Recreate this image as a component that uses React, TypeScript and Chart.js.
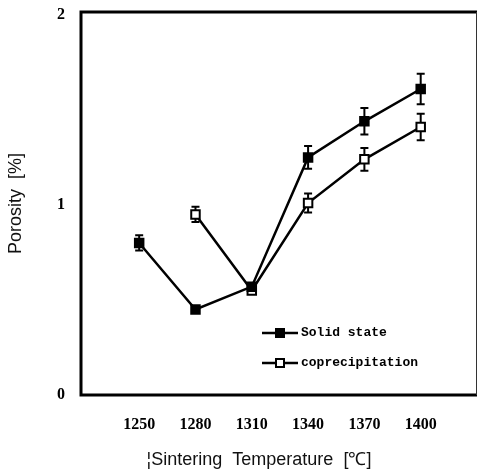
import React, { useEffect, useRef } from "react";
import { Chart, registerables } from "chart.js";

Chart.register(...registerables);

const temperatures = [1250, 1280, 1310, 1340, 1370, 1400];
const solidValues = [0.8, 0.45, 0.57, 1.25, 1.44, 1.61];
const solidErrors = [0.04, 0.0, 0.0, 0.06, 0.07, 0.08];
const coprecipValues: (number | null)[] = [null, 0.95, 0.55, 1.01, 1.24, 1.41];
const coprecipErrors = [0, 0.04, 0.0, 0.05, 0.06, 0.07];
const yTicks = [0, 1, 2];
const seriesLabels = ["Solid state", "coprecipitation"];
const xTitle = "¦Sintering  Temperature  [℃]        ";
const yTitle = "Porosity  [%]";

const errorsBySeries = [solidErrors, coprecipErrors];

const framePlugin = {
  id: "frame",
  beforeDatasetsDraw(chart: any) {
    const { ctx, chartArea } = chart;
    const { left, right, top, bottom } = chartArea;
    ctx.save();
    ctx.strokeStyle = "#000";
    ctx.lineWidth = 3;
    ctx.beginPath();
    ctx.moveTo(right, top);
    ctx.lineTo(left, top);
    ctx.lineTo(left, bottom);
    ctx.lineTo(right, bottom);
    ctx.stroke();
    ctx.lineWidth = 1;
    ctx.strokeStyle = "#333";
    ctx.beginPath();
    ctx.moveTo(right - 0.5, top);
    ctx.lineTo(right - 0.5, bottom);
    ctx.stroke();
    ctx.restore();
  },
};

const errorBarPlugin = {
  id: "errorBars",
  beforeDatasetsDraw(chart: any) {
    const { ctx } = chart;
    const xs = chart.scales.x;
    const ys = chart.scales.y;
    ctx.save();
    ctx.strokeStyle = "#000";
    ctx.lineWidth = 2;
    chart.data.datasets.forEach((ds: any, di: number) => {
      const errs = errorsBySeries[di];
      ds.data.forEach((p: any, i: number) => {
        if (p.y == null || !errs[i]) return;
        const x = xs.getPixelForValue(p.x);
        const y1 = ys.getPixelForValue(p.y + errs[i]);
        const y2 = ys.getPixelForValue(p.y - errs[i]);
        ctx.beginPath();
        ctx.moveTo(x, y1);
        ctx.lineTo(x, y2);
        ctx.moveTo(x - 4, y1);
        ctx.lineTo(x + 4, y1);
        ctx.moveTo(x - 4, y2);
        ctx.lineTo(x + 4, y2);
        ctx.stroke();
      });
    });
    ctx.restore();
  },
};

const legendPlugin = {
  id: "customLegend",
  afterDatasetsDraw(chart: any) {
    const { ctx, chartArea } = chart;
    const x0 = chartArea.left + 181;
    const rows = [chartArea.top + 321, chartArea.top + 351];
    ctx.save();
    chart.data.datasets.forEach((ds: any, i: number) => {
      const y = rows[i];
      ctx.strokeStyle = "#000";
      ctx.lineWidth = 2.5;
      ctx.beginPath();
      ctx.moveTo(x0, y);
      ctx.lineTo(x0 + 36, y);
      ctx.stroke();
      ctx.fillStyle = ds.pointBackgroundColor;
      ctx.lineWidth = 2;
      ctx.fillRect(x0 + 14, y - 4, 8, 8);
      ctx.strokeRect(x0 + 14, y - 4, 8, 8);
      ctx.fillStyle = "#000";
      ctx.font = "bold 13px 'Liberation Mono'";
      ctx.textBaseline = "middle";
      ctx.textAlign = "left";
      ctx.fillText(ds.label, x0 + 39, y);
    });
    ctx.restore();
  },
};

const zeroPadding = (scale: any) => {
  scale.paddingLeft = 0;
  scale.paddingRight = 0;
  scale.paddingTop = 0;
  scale.paddingBottom = 0;
};

export default function App() {
  const canvasRef = useRef<HTMLCanvasElement | null>(null);

  useEffect(() => {
    document.body.style.margin = "0";
    const canvas = canvasRef.current;
    if (!canvas) return;
    const chart = new Chart(canvas, {
      type: "line",
      data: {
        datasets: [
          {
            label: seriesLabels[0],
            data: temperatures.map((t, i) => ({ x: t, y: solidValues[i] })),
            borderColor: "#000",
            borderWidth: 2.5,
            pointStyle: "rect",
            pointRadius: 6,
            pointBorderWidth: 2,
            pointBackgroundColor: "#000",
            pointBorderColor: "#000",
            fill: false,
          },
          {
            label: seriesLabels[1],
            data: temperatures.map((t, i) => ({ x: t, y: coprecipValues[i] })),
            borderColor: "#000",
            borderWidth: 2.5,
            pointStyle: "rect",
            pointRadius: 6,
            pointBorderWidth: 2,
            pointBackgroundColor: "#fff",
            pointBorderColor: "#000",
            fill: false,
          },
        ],
      },
      options: {
        animation: false,
        responsive: false,
        devicePixelRatio: 1,
        layout: { autoPadding: false, padding: { top: 12, right: 1, left: 0, bottom: 0 } },
        plugins: {
          legend: { display: false },
          tooltip: { enabled: false },
        },
        scales: {
          x: {
            type: "linear",
            min: 1219,
            max: 1430,
            afterBuildTicks: (scale: any) => {
              scale.ticks = temperatures.map((v) => ({ value: v }));
            },
            afterFit: (scale: any) => {
              scale.height = 81;
              zeroPadding(scale);
            },
            grid: { display: false, drawTicks: false },
            border: { display: false },
            ticks: {
              color: "#000",
              padding: 20,
              maxRotation: 0,
              autoSkip: false,
              font: { family: "'Liberation Serif'", size: 16, weight: "bold" },
              callback: (v: any) => String(v),
            },
            title: {
              display: true,
              text: xTitle,
              color: "#111",
              font: { family: "'Liberation Sans'", size: 18 },
              padding: { top: 0, bottom: 5 },
            },
          },
          y: {
            min: 0,
            max: 2.015,
            afterBuildTicks: (scale: any) => {
              scale.ticks = yTicks.map((v) => ({ value: v }));
            },
            afterFit: (scale: any) => {
              scale.width = 81;
              zeroPadding(scale);
            },
            grid: { display: false, drawTicks: false },
            border: { display: false },
            ticks: {
              color: "#000",
              padding: 16,
              font: { family: "'Liberation Serif'", size: 16, weight: "bold" },
              callback: (v: any) => String(v),
            },
            title: {
              display: true,
              text: yTitle,
              color: "#111",
              font: { family: "'Liberation Sans'", size: 18 },
              padding: { top: 5, bottom: 0 },
            },
          },
        },
      },
      plugins: [framePlugin, errorBarPlugin, legendPlugin],
    } as any);
    return () => chart.destroy();
  }, []);

  return (
    <div style={{ position: "absolute", left: 0, top: 0, width: 478, height: 476, background: "#fff" }}>
      <canvas ref={canvasRef} width={478} height={476} style={{ display: "block", width: 478, height: 476 }} />
    </div>
  );
}
